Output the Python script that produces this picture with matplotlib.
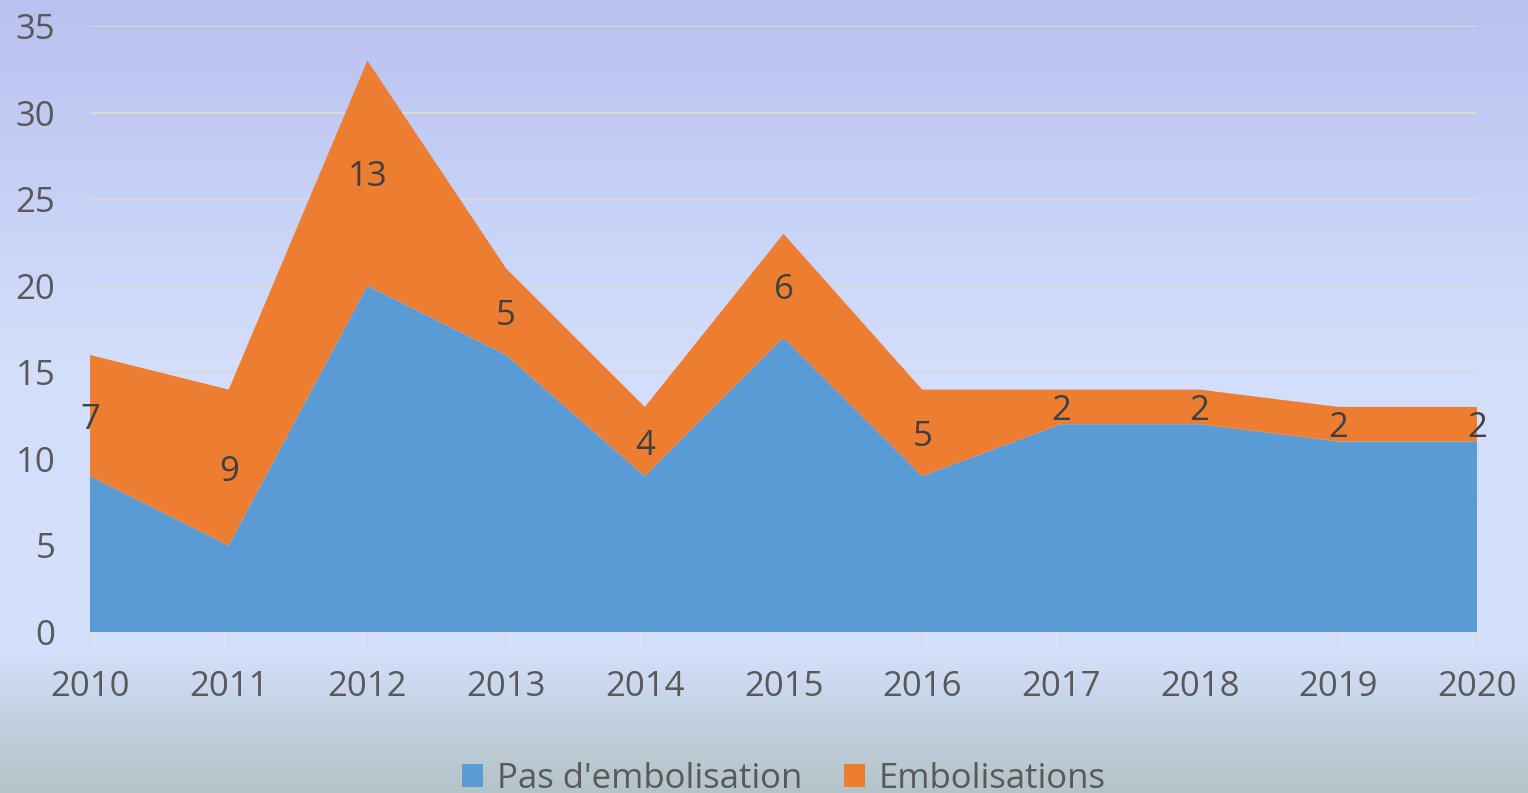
import matplotlib
matplotlib.use("Agg")
import matplotlib.pyplot as plt
import numpy as np
from matplotlib.colors import LinearSegmentedColormap

years = ["2010", "2011", "2012", "2013", "2014", "2015", "2016", "2017", "2018", "2019", "2020"]
pas_embolisation = [9, 5, 20, 16, 9, 17, 9, 12, 12, 11, 11]
embolisations = [7, 9, 13, 5, 4, 6, 5, 2, 2, 2, 2]
yticks = [0, 5, 10, 15, 20, 25, 30, 35]

plt.rcParams['font.family'] = ['Open Sans', 'DejaVu Sans']
W, H = 1528, 793
fig = plt.figure(figsize=(W / 100, H / 100), dpi=100)

# background gradient
bg = fig.add_axes([0, 0, 1, 1], zorder=-10)
bg.axis("off")
cmap = LinearSegmentedColormap.from_list("bg", [
    (0.0, (185/255, 193/255, 238/255)),
    (0.45, (211/255, 222/255, 252/255)),
    (0.82, (213/255, 224/255, 252/255)),
    (0.90, (196/255, 210/255, 228/255)),
    (1.0, (180/255, 196/255, 200/255)),
])
grad = np.linspace(0, 1, 400).reshape(-1, 1)
bg.imshow(grad, aspect="auto", cmap=cmap, extent=[0, 1, 0, 1], origin="upper")
bg.set_xlim(0, 1); bg.set_ylim(0, 1)

ax = fig.add_axes([90 / W, (H - 632) / H, (1477 - 90) / W, (632 - 26) / H])
ax.set_facecolor("none")
x = np.arange(len(years))
blue = "#5b9bd5"
orange = "#ed7d31"
ax.stackplot(x, pas_embolisation, embolisations, colors=[blue, orange],
             labels=["Pas d'embolisation", "Embolisations"], zorder=2, linewidth=0)

FS = 25
for xi, b, e in zip(x, pas_embolisation, embolisations):
    ax.text(xi, b + e / 2, str(e), ha="center", va="center_baseline", fontsize=FS,
            color="#404040", zorder=5, clip_on=False)

ax.set_xlim(0, len(years) - 1)
ax.set_ylim(0, 35)
ax.set_yticks(yticks)
ax.set_xticks(x)
ax.set_xticklabels(years)
ax.grid(axis="y", color="#d9d9d9", linewidth=1.5, zorder=0)
ax.set_axisbelow(True)
for s in ax.spines.values():
    s.set_visible(False)
ax.tick_params(axis="y", length=0, pad=25, labelsize=FS, labelcolor="#595959")
ax.tick_params(axis="x", length=11, width=1.2, color="#d9d9d9", pad=16,
               labelsize=FS, labelcolor="#595959")

leg = fig.legend(loc="center", bbox_to_anchor=(0.513, 0.018), ncol=2, frameon=False,
                 fontsize=FS, labelcolor="#595959", handlelength=0.6, handleheight=0.6,
                 columnspacing=1.2, handletextpad=0.4)

fig.savefig("out.png", dpi=100)
